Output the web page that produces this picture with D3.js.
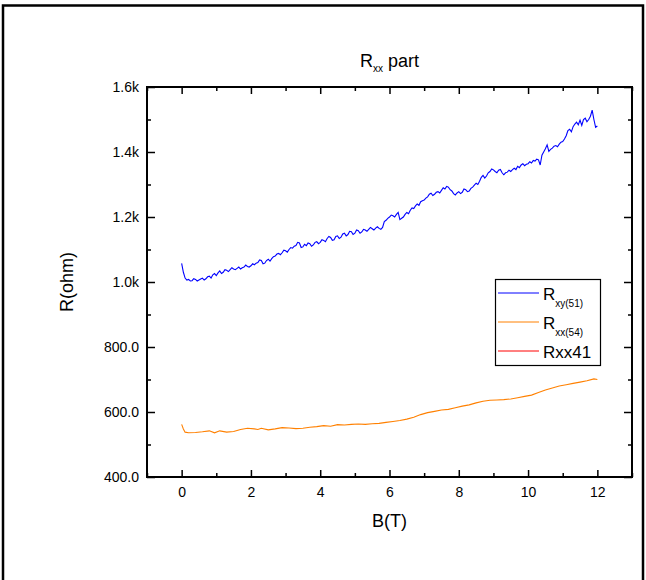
<!DOCTYPE html>
<html>
<head>
<meta charset="utf-8">
<script src="https://cdn.jsdelivr.net/npm/d3@7"></script>
<style>
  body { margin: 0; background: #fff; }
  svg text { font-family: Arial, "Liberation Sans", sans-serif; fill: #000; }
</style>
</head>
<body>
<div id="container"></div>
<script>
// B field (T) and resistance values
var bXY = [0,0.05,0.1,0.15,0.2,0.25,0.3,0.35,0.4,0.45,0.5,0.55,0.6,0.65,0.7,0.75,0.8,0.85,0.9,0.95,
  1,1.05,1.1,1.15,1.2,1.25,1.3,1.35,1.4,1.45,1.5,1.55,1.6,1.65,1.7,1.75,1.8,1.85,1.9,1.95,
  2,2.05,2.1,2.15,2.2,2.25,2.3,2.35,2.4,2.45,2.5,2.55,2.6,2.65,2.7,2.75,2.8,2.85,2.9,2.95,
  3,3.05,3.1,3.15,3.2,3.25,3.3,3.35,3.4,3.45,3.5,3.55,3.6,3.65,3.7,3.75,3.8,3.85,3.9,3.95,
  4,4.05,4.1,4.15,4.2,4.25,4.3,4.35,4.4,4.45,4.5,4.55,4.6,4.65,4.7,4.75,4.8,4.85,4.9,4.95,
  5,5.05,5.1,5.15,5.2,5.25,5.3,5.35,5.4,5.45,5.5,5.55,5.6,5.65,5.7,5.75,5.8,5.85,5.9,5.95,
  6,6.05,6.1,6.15,6.2,6.25,6.3,6.35,6.4,6.45,6.5,6.55,6.6,6.65,6.7,6.75,6.8,6.85,6.9,6.95,
  7,7.05,7.1,7.15,7.2,7.25,7.3,7.35,7.4,7.45,7.5,7.55,7.6,7.65,7.7,7.75,7.8,7.85,7.9,7.95,
  8,8.05,8.1,8.15,8.2,8.25,8.3,8.35,8.4,8.45,8.5,8.55,8.6,8.65,8.7,8.75,8.8,8.85,8.9,8.95,
  9,9.05,9.1,9.15,9.2,9.25,9.3,9.35,9.4,9.45,9.5,9.55,9.6,9.65,9.7,9.75,9.8,9.85,9.9,9.95,
  10,10.05,10.1,10.15,10.2,10.25,10.3,10.35,10.4,10.45,10.5,10.55,10.6,10.65,10.7,10.75,10.8,10.85,10.9,10.95,
  11,11.05,11.1,11.15,11.2,11.25,11.3,11.35,11.4,11.45,11.5,11.55,11.6,11.65,11.7,11.75,11.8,11.85,11.9,11.95,
  12];
var rXY = [1057,1030,1012,1006,1008,1003,1004,1010,1008,1003,1006,1009,1012,1006,1010,1016,1018,1012,1022,1026,
  1020,1028,1034,1026,1030,1038,1036,1032,1038,1044,1040,1038,1042,1046,1040,1044,1046,1052,1048,1046,
  1050,1056,1053,1058,1060,1068,1066,1056,1058,1066,1070,1064,1072,1078,1080,1086,1088,1084,1090,1098,
  1096,1092,1100,1106,1104,1110,1112,1122,1120,1106,1108,1116,1112,1120,1118,1110,1114,1122,1124,1118,
  1122,1130,1128,1124,1134,1140,1137,1128,1130,1140,1142,1134,1138,1148,1150,1142,1146,1156,1155,1146,
  1150,1160,1158,1150,1154,1162,1160,1156,1162,1168,1164,1160,1166,1170,1165,1162,1168,1186,1190,1196,
  1200,1206,1204,1200,1208,1214,1192,1196,1200,1208,1214,1210,1221,1228,1226,1234,1240,1236,1247,1250,
  1252,1258,1262,1270,1273,1266,1270,1276,1278,1274,1282,1290,1286,1294,1292,1284,1280,1272,1268,1274,
  1278,1272,1276,1286,1284,1278,1280,1288,1292,1298,1304,1300,1310,1322,1328,1320,1326,1336,1340,1348,
  1345,1340,1336,1344,1346,1336,1330,1336,1338,1344,1340,1346,1350,1346,1356,1352,1360,1364,1358,1362,
  1364,1370,1366,1374,1372,1378,1376,1360,1390,1400,1410,1422,1402,1408,1412,1418,1420,1416,1424,1430,
  1432,1440,1450,1466,1470,1462,1478,1486,1492,1484,1498,1482,1500,1504,1493,1500,1510,1529,1500,1476,
  1480];

var bXX = [0,0.05,0.1,0.2,0.4,0.6,0.8,0.95,1.1,1.3,1.5,1.7,1.9,2.1,2.2,2.3,2.5,2.7,2.9,3.1,3.3,3.5,3.7,3.9,
  4.1,4.3,4.5,4.7,4.9,5.1,5.3,5.5,5.7,5.9,6.1,6.3,6.5,6.7,6.9,7.1,7.3,7.5,7.7,7.9,8.1,8.3,8.5,8.7,8.9,
  9.1,9.3,9.5,9.7,9.9,10.1,10.3,10.5,10.7,10.9,11.1,11.3,11.5,11.7,11.9,12.0];
var rXX = [562,548,538,536,537,539,542,536,542,538,540,546,550,548,546,550,545,548,552,551,549,550,553,555,
  558,556,561,560,562,563,562,564,565,568,571,574,578,584,592,598,602,606,608,613,618,622,628,633,636,
  637,638,640,644,648,652,660,668,674,680,684,688,692,696,702,700];

var bXX41 = [];
var rXX41 = [];

var xTicks = [0, 2, 4, 6, 8, 10, 12];
var xMinor = [-1, 1, 3, 5, 7, 9, 11, 13];
var yTicks = [400, 600, 800, 1000, 1200, 1400, 1600];
var yTickLabels = ['400.0', '600.0', '800.0', '1.0k', '1.2k', '1.4k', '1.6k'];
var yMinor = [500, 700, 900, 1100, 1300, 1500];

var W = 646, H = 580;
var pLeft = 147, pTop = 87, pRight = 632, pBottom = 477;

var svg = d3.select('#container').append('svg')
  .attr('width', W).attr('height', H);

// outer frame
svg.append('path')
  .attr('d', 'M3,590 L3,5.5 L643,5.5 L643,590')
  .attr('fill', 'none').attr('stroke', '#000').attr('stroke-width', 2.5);

var x = d3.scaleLinear().domain([-1, 13]).range([pLeft, pRight]);
var y = d3.scaleLinear().domain([400, 1600]).range([pBottom, pTop]);

function styleAxis(g) {
  g.select('.domain').remove();
  g.selectAll('.tick line').attr('stroke', '#000').attr('stroke-width', 1.5);
  g.selectAll('.tick text').style('font-size', '14px');
}

// bottom
svg.append('g').attr('transform', 'translate(0,' + pBottom + ')')
  .call(d3.axisBottom(x).tickValues(xMinor).tickSize(-4).tickFormat(''))
  .call(styleAxis);
svg.append('g').attr('transform', 'translate(0,' + pBottom + ')')
  .call(d3.axisBottom(x).tickValues(xTicks).tickSize(-7).tickPadding(10).tickFormat(d3.format('d')))
  .call(styleAxis);
// top
svg.append('g').attr('transform', 'translate(0,' + pTop + ')')
  .call(d3.axisTop(x).tickValues(xMinor).tickSize(-4).tickFormat(''))
  .call(styleAxis);
svg.append('g').attr('transform', 'translate(0,' + pTop + ')')
  .call(d3.axisTop(x).tickValues(xTicks).tickSize(-7).tickFormat(''))
  .call(styleAxis);
// left
svg.append('g').attr('transform', 'translate(' + pLeft + ',0)')
  .call(d3.axisLeft(y).tickValues(yMinor).tickSize(-4).tickFormat(''))
  .call(styleAxis);
svg.append('g').attr('transform', 'translate(' + pLeft + ',0)')
  .call(d3.axisLeft(y).tickValues(yTicks).tickSize(-8).tickPadding(8)
    .tickFormat(function(d, i) { return yTickLabels[i]; }))
  .call(styleAxis);
// right
svg.append('g').attr('transform', 'translate(' + pRight + ',0)')
  .call(d3.axisRight(y).tickValues(yMinor).tickSize(-4).tickFormat(''))
  .call(styleAxis);
svg.append('g').attr('transform', 'translate(' + pRight + ',0)')
  .call(d3.axisRight(y).tickValues(yTicks).tickSize(-8).tickFormat(''))
  .call(styleAxis);

// plot frame
svg.append('rect')
  .attr('x', pLeft).attr('y', pTop)
  .attr('width', pRight - pLeft).attr('height', pBottom - pTop)
  .attr('fill', 'none').attr('stroke', '#000').attr('stroke-width', 2);

var line = d3.line()
  .x(function(d) { return x(d[0]); })
  .y(function(d) { return y(d[1]); });

var series = [
  { b: bXY, r: rXY, color: '#0000ff' },
  { b: bXX, r: rXX, color: '#ff8000' },
  { b: bXX41, r: rXX41, color: '#ff0000' }
];
series.forEach(function(s) {
  var pts = s.b.map(function(v, i) { return [v, s.r[i]]; });
  if (!pts.length) return;
  svg.append('path').datum(pts)
    .attr('d', line)
    .attr('fill', 'none')
    .attr('stroke', s.color)
    .attr('stroke-width', 1.1);
});

// title
var title = svg.append('text')
  .attr('x', (pLeft + pRight) / 2).attr('y', 67)
  .attr('text-anchor', 'middle')
  .style('font-size', '18px');
title.append('tspan').text('R');
title.append('tspan').attr('dy', 5).style('font-size', '10px').text('xx');
title.append('tspan').attr('dy', -5).text(' part');

// axis labels
svg.append('text')
  .attr('x', (pLeft + pRight) / 2).attr('y', 527)
  .attr('text-anchor', 'middle')
  .style('font-size', '18px')
  .text('B(T)');
svg.append('text')
  .attr('transform', 'translate(73,' + ((pTop + pBottom) / 2) + ') rotate(-90)')
  .attr('text-anchor', 'middle')
  .style('font-size', '18px')
  .text('R(ohm)');

// legend
var legend = svg.append('g');
legend.append('rect')
  .attr('x', 495.5).attr('y', 279.5).attr('width', 105).attr('height', 86)
  .attr('fill', '#fff').attr('stroke', '#000').attr('stroke-width', 1.2);

var legendRows = [
  { color: '#0000ff', main: 'R', sub: 'xy(51)', ly: 293, ty: 299.5 },
  { color: '#ff8000', main: 'R', sub: 'xx(54)', ly: 322, ty: 328.5 },
  { color: '#ff0000', main: 'Rxx41', sub: '', ly: 351, ty: 357.5 }
];
legendRows.forEach(function(r) {
  legend.append('line')
    .attr('x1', 498).attr('x2', 539)
    .attr('y1', r.ly).attr('y2', r.ly)
    .attr('stroke', r.color).attr('stroke-width', 1);
  var t = legend.append('text')
    .attr('x', 543).attr('y', r.ty)
    .style('font-size', '17px');
  t.append('tspan').text(r.main);
  if (r.sub) {
    t.append('tspan').attr('dy', 7.5).style('font-size', '10px').text(r.sub);
  }
});
</script>
</body>
</html>
